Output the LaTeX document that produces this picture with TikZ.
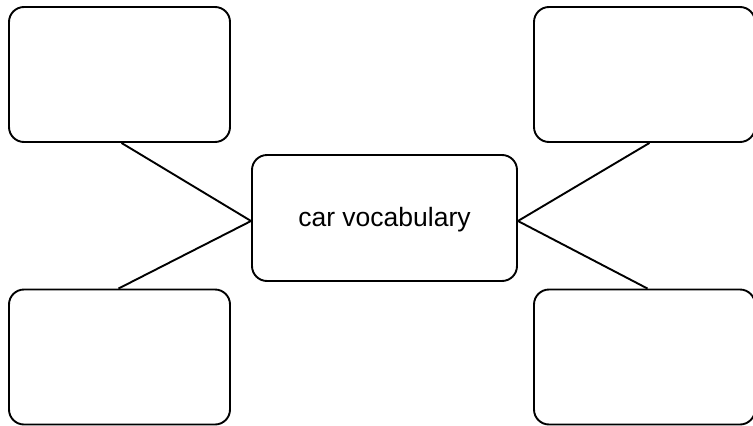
\documentclass[tikz,border=0pt]{standalone}
\usepackage{fontspec}
\setmainfont{Liberation Sans}
\begin{document}
\begin{tikzpicture}[x=1pt,y=-1pt,
  box/.style={draw=black, line width=1.9pt, rounded corners=15pt, inner sep=0pt},
  leaf/.style={box, minimum width=221pt, minimum height=135pt},
  hub/.style={box, minimum width=265pt, minimum height=126pt, text height=18pt, text depth=0.6pt, font=\fontsize{26.5}{30}\selectfont},
  link/.style={draw=black, line width=1.9pt}]
\useasboundingbox (0,0) rectangle (753,426);
\node[hub] (c) at (384.5,218) {car vocabulary};
\node[leaf] (tl) at (119.5,74.5) {};
\node[leaf] (tr) at (644.5,74.5) {};
\node[leaf] (bl) at (119.5,357) {};
\node[leaf] (br) at (644.5,357) {};
\coordinate (cw) at ([yshift=-3pt]c.west);
\coordinate (ce) at ([yshift=-3pt]c.east);
\draw[link] ([xshift=2pt]tl.south) -- (cw);
\draw[link] ([xshift=-1pt]bl.north) -- (cw);
\draw[link] ([xshift=5pt]tr.south) -- (ce);
\draw[link] ([xshift=3pt]br.north) -- (ce);
\end{tikzpicture}
\end{document}
